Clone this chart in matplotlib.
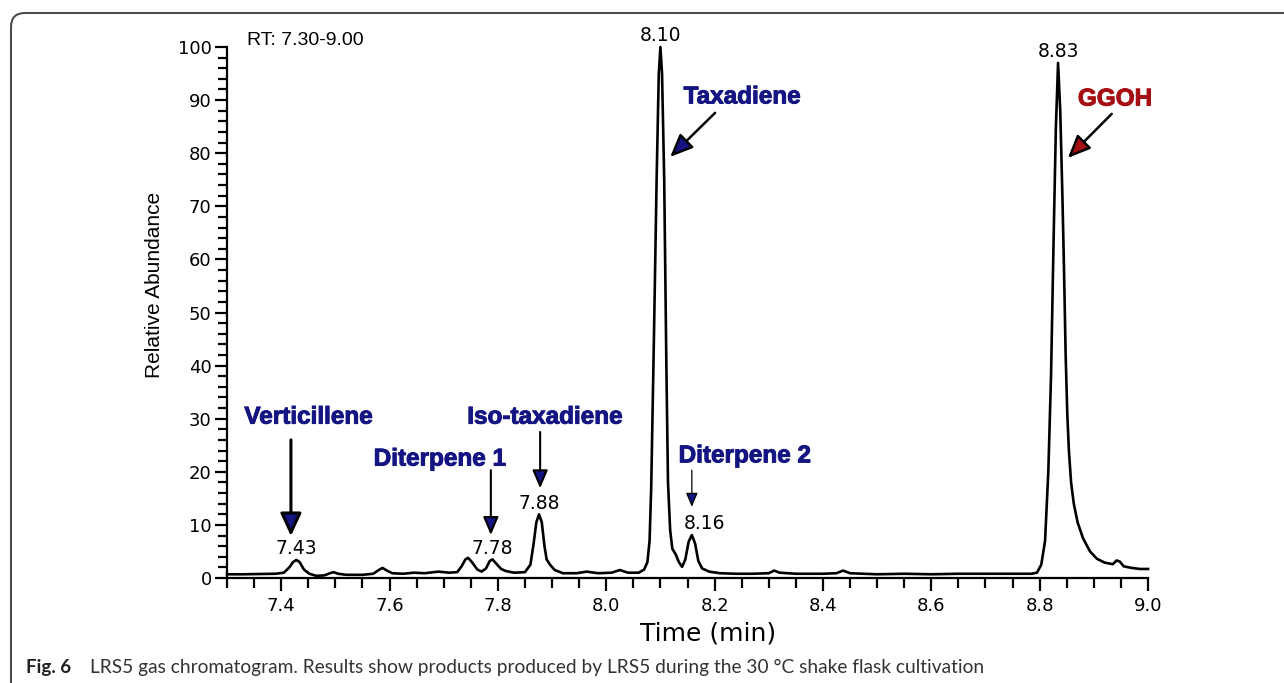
#!/usr/bin/env python3
"""Recreate the LRS5 gas chromatogram figure (Fig. 6) as out.png."""

import matplotlib
matplotlib.use("Agg")
import matplotlib.pyplot as plt
import matplotlib.patheffects as pe
from matplotlib import font_manager
from matplotlib.patches import FancyBboxPatch
from matplotlib.ticker import FormatStrFormatter, MultipleLocator
from matplotlib.transforms import IdentityTransform


# trace: retention time (min), relative abundance (%)
TIME_MIN = [
    7.300, 7.330, 7.360, 7.390, 7.405, 7.415, 7.422, 7.428, 7.434, 7.442,
    7.452, 7.465, 7.480, 7.490, 7.497, 7.505, 7.520, 7.550, 7.570, 7.580,
    7.587, 7.595, 7.605, 7.625, 7.645, 7.665, 7.690, 7.710, 7.725, 7.733,
    7.740, 7.745, 7.752, 7.762, 7.770, 7.778, 7.785, 7.790, 7.797, 7.806,
    7.815, 7.830, 7.850, 7.860, 7.866, 7.871, 7.876, 7.881, 7.886, 7.890,
    7.897, 7.905, 7.920, 7.945, 7.964, 7.985, 8.010, 8.025, 8.040, 8.060,
    8.070, 8.076, 8.080, 8.083, 8.088, 8.093, 8.097, 8.100, 8.103, 8.107,
    8.111, 8.114, 8.118, 8.122, 8.128, 8.134, 8.140, 8.146, 8.152, 8.158,
    8.164, 8.170, 8.177, 8.190, 8.210, 8.240, 8.270, 8.300, 8.310, 8.320,
    8.350, 8.400, 8.425, 8.437, 8.450, 8.500, 8.550, 8.600, 8.650, 8.700,
    8.750, 8.785, 8.795, 8.803, 8.810, 8.816, 8.821, 8.826, 8.830, 8.834,
    8.838, 8.842, 8.845, 8.848, 8.851, 8.854, 8.858, 8.863, 8.870, 8.880,
    8.893, 8.906, 8.920, 8.935, 8.942, 8.948, 8.955, 8.970, 8.985, 9.000,
]
ABUNDANCE = [
    0.7, 0.7, 0.75, 0.8, 1.0, 2.0, 3.0, 3.4, 3.0, 1.6,
    0.8, 0.4, 0.5, 0.9, 1.1, 0.8, 0.6, 0.6, 0.8, 1.5,
    1.9, 1.4, 0.9, 0.8, 1.0, 0.9, 1.2, 1.0, 1.1, 2.2,
    3.5, 3.8, 3.0, 1.6, 1.2, 1.8, 3.2, 3.5, 2.7, 1.7,
    1.3, 1.0, 1.1, 2.5, 6.5, 10.5, 12.0, 10.5, 6.0, 3.5,
    2.4, 1.5, 0.9, 0.9, 1.2, 0.9, 1.0, 1.5, 1.0, 1.0,
    1.6, 3.0, 7.0, 17.0, 45.0, 75.0, 95.0, 100.0, 95.0, 75.0,
    40.0, 18.0, 9.0, 5.5, 4.5, 3.0, 2.1, 3.5, 6.8, 8.1,
    6.5, 3.2, 1.8, 1.2, 0.9, 0.8, 0.8, 0.9, 1.4, 1.0,
    0.8, 0.8, 0.9, 1.4, 0.9, 0.7, 0.8, 0.7, 0.8, 0.8,
    0.8, 0.8, 1.0, 2.5, 7.0, 20.0, 38.0, 65.0, 85.0, 97.0,
    88.0, 72.0, 58.0, 42.0, 31.0, 24.0, 18.0, 14.0, 10.5, 7.5,
    5.0, 3.6, 2.9, 2.6, 3.3, 3.1, 2.2, 1.9, 1.7, 1.7,
]

# labelled peaks
PEAK_RT = [7.428, 7.790, 7.876, 8.100, 8.158, 8.834]
PEAK_HEIGHT = [3.4, 3.5, 12.0, 100.0, 8.1, 97.0]
PEAK_LABELS = ["7.43", "7.78", "7.88", "8.10", "8.16", "8.83"]

# compound names
COMPOUNDS = ["Verticillene", "Diterpene 1", "Iso-taxadiene", "Taxadiene", "Diterpene 2", "GGOH"]

NAVY = "#141482"
DARK_RED = "#a50f14"


def pick_family(wanted, fallback):
    names = {f.name for f in font_manager.fontManager.ttflist}
    return wanted if wanted in names else fallback


def main():
    fig = plt.figure(figsize=(12.84, 6.83), dpi=100)
    ax = fig.add_axes([227 / 1284, 1 - 578 / 683, 921 / 1284, 531 / 683])

    ax.plot(TIME_MIN, ABUNDANCE, color="black", lw=1.9, clip_on=False,
            solid_joinstyle="round")

    ax.set_xlim(7.3, 9.0)
    ax.set_ylim(0, 100)
    for side in ("top", "right"):
        ax.spines[side].set_visible(False)
    for side in ("left", "bottom"):
        ax.spines[side].set_linewidth(1.6)

    ax.xaxis.set_major_locator(MultipleLocator(0.2))
    ax.xaxis.set_minor_locator(MultipleLocator(0.05))
    ax.xaxis.set_major_formatter(FormatStrFormatter("%.1f"))
    ax.yaxis.set_major_locator(MultipleLocator(10))
    ax.yaxis.set_minor_locator(MultipleLocator(2))

    ax.tick_params(axis="x", which="major", length=9.5, width=1.6, pad=4.5,
                   labelsize=13, direction="out")
    ax.tick_params(axis="x", which="minor", length=7, width=1.6, direction="out")
    ax.tick_params(axis="y", which="major", length=9, width=1.6, pad=2,
                   labelsize=13, direction="out")
    ax.tick_params(axis="y", which="minor", length=6.5, width=1.6, direction="out")
    for lab in ax.get_xticklabels() + ax.get_yticklabels():
        lab.set_family("DejaVu Sans")

    narrow = pick_family("Liberation Sans Narrow", None)
    if narrow:
        ax.set_ylabel("Relative Abundance", family=narrow, fontsize=18)
    else:
        ax.set_ylabel("Relative Abundance", family="Liberation Sans", fontsize=15)
    ax.yaxis.label.set_va("center")
    ax.yaxis.set_label_coords((155 - 227) / 921, (578 - 285) / 531)

    ax.set_xlabel("Time (min)", family="DejaVu Sans", fontsize=18)
    ax.xaxis.label.set_va("center")
    ax.xaxis.set_label_coords((708 - 227) / 921, (578 - 634) / 531)

    ax.text(0.0217, 1.013, "RT: 7.30-9.00", transform=ax.transAxes,
            family="Liberation Sans", fontsize=14, ha="left", va="center")

    # retention time above each labelled peak
    label_shift = [0, 0, 0, 0, 9, 0]
    for rt, h, txt, dx in zip(PEAK_RT, PEAK_HEIGHT, PEAK_LABELS, label_shift):
        ax.annotate(txt, (rt, h), xytext=(dx, 4), textcoords="offset points",
                    ha="center", va="baseline", family="DejaVu Sans",
                    fontsize=13.5, annotation_clip=False)

    # compound name, text centre, arrow tail, arrow tip, colour, shaft lw, head (len, half width)
    layout = [
        ((7.451, 30.3), (7.418, 26.0), (7.418, 7.9), NAVY, 2.2, (14, 6.5)),
        ((7.693, 22.4), (7.787, 20.3), (7.787, 8.1), NAVY, 1.5, (11, 4.7)),
        ((7.887, 30.3), (7.878, 27.5), (7.878, 16.9), NAVY, 1.5, (11, 4.7)),
        ((8.251, 90.6), (8.201, 87.6), (8.118, 79.3), NAVY, 1.8, (14, 6.0)),
        ((8.256, 23.0), (8.158, 20.3), (8.158, 13.4), NAVY, 0.9, (8.5, 3.6)),
        ((8.939, 90.2), (8.933, 87.4), (8.852, 79.1), DARK_RED, 1.8, (14, 6.0)),
    ]
    for name, (text_xy, tail, tip, color, lw, head) in zip(COMPOUNDS, layout):
        ax.text(text_xy[0], text_xy[1], name, color=color, family="Liberation Sans",
                fontweight="bold", fontsize=17.5, ha="center", va="center",
                path_effects=[pe.withStroke(linewidth=0.7, foreground=color)])
        ax.annotate(
            "", xy=tip, xytext=tail,
            arrowprops=dict(
                arrowstyle=f"-|>,head_length={head[0]},head_width={head[1]}",
                mutation_scale=1, fc=color, ec="black", lw=lw,
                shrinkA=0, shrinkB=0,
            ),
        )

    # card frame and caption
    frame = FancyBboxPatch((11, -60), 1400, 683 - 13 + 60,
                           boxstyle="round,pad=0,rounding_size=14",
                           transform=IdentityTransform(), fill=False,
                           ec="#4d4d4d", lw=1.5)
    fig.add_artist(frame)

    fig.text(26 / 1284, 1 - 667 / 683, "Fig. 6", family="Lato", fontweight="bold",
             fontsize=13.5, color="#222222", ha="left", va="center")
    fig.text(90 / 1284, 1 - 667 / 683,
             "LRS5 gas chromatogram. Results show products produced by LRS5 "
             "during the 30 \u00b0C shake flask cultivation",
             family="Lato", fontsize=13.8, color="#333333", ha="left", va="center")

    fig.savefig("out.png", dpi=100)


if __name__ == "__main__":
    main()
